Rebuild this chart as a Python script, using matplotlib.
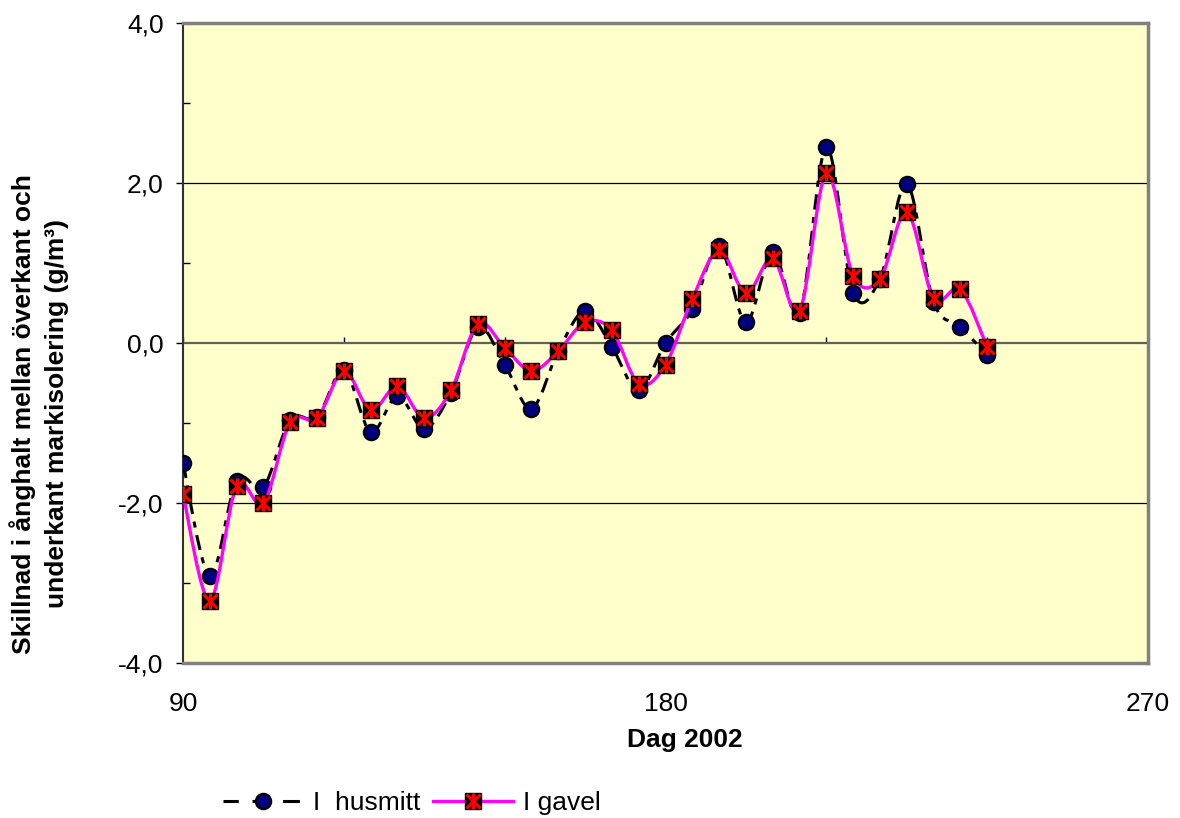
import matplotlib
matplotlib.use("Agg")
import matplotlib.pyplot as plt
from matplotlib.path import Path
from matplotlib.patches import PathPatch
from matplotlib.lines import Line2D
from matplotlib.legend_handler import HandlerTuple
from matplotlib.ticker import FuncFormatter, MultipleLocator

plt.rcParams['font.family'] = ['Liberation Sans', 'DejaVu Sans']

# dag 2002, var 5:e dag
dag = [90, 95, 100, 105, 110, 115, 120, 125, 130, 135, 140, 145, 150, 155, 160,
       165, 170, 175, 180, 185, 190, 195, 200, 205, 210, 215, 220, 225, 230, 235, 240]
husmitt = [-1.50, -2.91, -1.72, -1.80, -0.96, -0.93, -0.34, -1.11, -0.66, -1.07,
           -0.62, 0.20, -0.27, -0.82, -0.10, 0.40, -0.05, -0.59, 0.00, 0.42,
           1.21, 0.26, 1.14, 0.38, 2.45, 0.63, 0.80, 1.99, 0.51, 0.20, -0.15]
gavel = [-1.89, -3.22, -1.79, -2.00, -0.99, -0.94, -0.35, -0.84, -0.54, -0.94,
         -0.59, 0.24, -0.06, -0.35, -0.10, 0.26, 0.16, -0.51, -0.27, 0.55,
         1.16, 0.62, 1.06, 0.40, 2.12, 0.84, 0.80, 1.64, 0.56, 0.67, -0.05]

xticks = [90, 180, 270]
yticks = [-4, -2, 0, 2, 4]

FS = 19


def smooth_path(x, y):
    # excel-style smoothed line, bezier segments through every point
    pts = list(zip(x, y))
    n = len(pts)
    verts = [pts[0]]
    codes = [Path.MOVETO]
    for i in range(n - 1):
        p0 = pts[max(i - 1, 0)]
        p1 = pts[i]
        p2 = pts[i + 1]
        p3 = pts[min(i + 2, n - 1)]
        c1 = (p1[0] + (p2[0] - p0[0]) / 6, p1[1] + (p2[1] - p0[1]) / 6)
        c2 = (p2[0] - (p3[0] - p1[0]) / 6, p2[1] - (p3[1] - p1[1]) / 6)
        verts += [c1, c2, p2]
        codes += [Path.CURVE4] * 3
    return Path(verts, codes)


fig = plt.figure(figsize=(11.8, 8.18), dpi=100)
ax = fig.add_axes([183 / 1180, 1 - 663 / 818, 965 / 1180, 640 / 818])
ax.set_facecolor('#FFFFCC')
ax.set_xlim(90, 270)
ax.set_ylim(-4, 4)

for v in [-2, 2]:
    ax.axhline(v, color='black', lw=0.9, zorder=1)
ax.axhline(0, color='#606060', lw=1.6, zorder=1)

dash = (0, (5, 2.5, 2, 2.5))
ax.add_patch(PathPatch(smooth_path(dag, husmitt), fill=False, edgecolor='black',
                       lw=2.2, linestyle=dash, zorder=3))
ax.plot(dag, husmitt, 'o', ms=11, mfc='#000080', mec='black', mew=1.6, zorder=4)

ax.add_patch(PathPatch(smooth_path(dag, gavel), fill=False, edgecolor='#FF00FF',
                       lw=2.4, zorder=5))
ax.plot(dag, gavel, 's', ms=11.5, mfc='black', mec='black', zorder=6)
ax.plot(dag, gavel, 'x', ms=10, mec='red', mew=2.2, zorder=7)
ax.plot(dag, gavel, '|', ms=12, mec='red', mew=2.2, zorder=7)

fmt = FuncFormatter(lambda v, p: f"{v:.1f}".replace('.', ','))
ax.set_yticks(yticks)
ax.yaxis.set_major_formatter(fmt)
ax.yaxis.set_minor_locator(MultipleLocator(1))
ax.tick_params(axis='y', which='major', direction='out', length=5, width=1,
               labelsize=FS, pad=9)
ax.tick_params(axis='y', which='minor', direction='in', length=5, width=1)

ax.set_xticks(xticks)
ax.tick_params(axis='x', which='major', length=0, labelsize=FS, pad=21)

# x-axeln ligger vid y=0
sec = ax.secondary_xaxis(0.5)
sec.set_xticks(range(90, 271, 30))
sec.tick_params(direction='out', length=4, width=1, color='black', labelbottom=False,
                labeltop=False)
sec.spines['bottom'].set_visible(False)
sec.spines['top'].set_visible(False)

for s in ['top', 'right', 'bottom']:
    ax.spines[s].set_color('#808080')
    ax.spines[s].set_linewidth(2.5)
ax.spines['left'].set_color('#303030')
ax.spines['left'].set_linewidth(1.5)

fig.text(685 / 1180, 1 - 740 / 818, 'Dag 2002', ha='center', va='center',
         fontsize=FS, fontweight='bold')
fig.text(39 / 1180, 1 - 414 / 818,
         'Skillnad i ånghalt mellan överkant och\nunderkant markisolering (g/m³)',
         ha='center', va='center', rotation=90, fontsize=FS, fontweight='bold',
         linespacing=1.5, multialignment='center')

h1 = Line2D([], [], color='black', lw=2.2, linestyle=(0.5, (5.5, 4.5)), marker='o',
            ms=11, mfc='#000080', mec='black', mew=1.6)
h2a = Line2D([], [], color='#FF00FF', lw=2.4, marker='s', ms=11.5, mfc='black', mec='black')
h2b = Line2D([], [], ls='none', marker='x', ms=10, mec='red', mew=2.2)
h2c = Line2D([], [], ls='none', marker='|', ms=12, mec='red', mew=2.2)
fig.legend([h1, (h2a, h2b, h2c)], ['I  husmitt', 'I gavel'],
           handler_map={tuple: HandlerTuple(ndivide=1)},
           loc='center', bbox_to_anchor=(412 / 1180, 1 - 803 / 818), ncol=2,
           frameon=False, fontsize=FS, handlelength=3.0, handletextpad=0.4,
           columnspacing=0.5)

fig.savefig('out.png', dpi=100)
